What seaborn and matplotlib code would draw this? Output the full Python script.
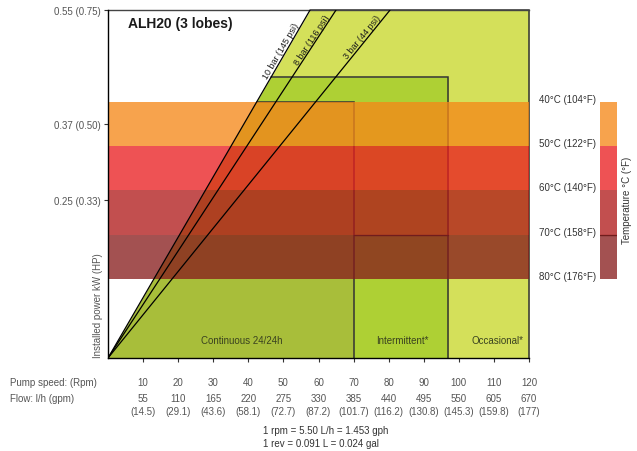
import math
import numpy as np
import pandas as pd
import matplotlib
matplotlib.use("Agg")
import matplotlib.pyplot as plt
import seaborn as sns

# ---------------- data ----------------
rpm = [10, 20, 30, 40, 50, 60, 70, 80, 90, 100, 110, 120]
flow_lh = [55, 110, 165, 220, 275, 330, 385, 440, 495, 550, 605, 670]
flow_gpm = ["14.5", "29.1", "43.6", "58.1", "72.7", "87.2", "101.7",
            "116.2", "130.8", "145.3", "159.8", "177"]

ytick_values = [0.25, 0.37, 0.55]
ytick_labels = ["0.25 (0.33)", "0.37 (0.50)", "0.55 (0.75)"]

duty_labels = ["Continuous 24/24h", "Intermittent*", "Occasional*"]
duty_rpm_max = [70, 97, 120]
duty_kw_max = [0.405, 0.444, 0.55]
duty_label_rpm = [38, 84, 111]
duty_colors = ["#a8be3a", "#aed034", "#d4e05a"]

pressure_labels = ["10 bar (145 psi)", "8 bar (116 psi)", "3 bar (44 psi)"]
pressure_rpm_at_max_kw = [57.6, 65.0, 80.4]
pressure_label_kw = [0.482, 0.500, 0.503]

temp_labels = ["40°C (104°F)", "50°C (122°F)", "60°C (140°F)",
               "70°C (158°F)", "80°C (176°F)"]
temp_bounds_kw = [0.405, 0.335, 0.265, 0.195, 0.125]
temp_colors_on_white = ["#f7a34d", "#ee5253", "#c24f4f", "#a35050"]
band_alpha = 0.77

KW_MAX = 0.55
RPM_MAX = 120

# ---------------- style ----------------
sns.set_theme(style="white")
plt.rcParams["font.family"] = ["Liberation Sans", "DejaVu Sans"]
GREY = "#555555"


def band_color(hexcol, a):
    r, g, b = matplotlib.colors.to_rgb(hexcol)
    return tuple(min(1, max(0, (c - (1 - a)) / a)) for c in (r, g, b))


band_cols = [band_color(c, band_alpha) for c in temp_colors_on_white]

W, H = 637, 452
fig = plt.figure(figsize=(W / 100, H / 100), dpi=100)
ax = fig.add_axes([108 / W, (H - 359) / H, 421 / W, 348 / H])
ax.set_xlim(0, RPM_MAX)
ax.set_ylim(0, KW_MAX)

slope10 = KW_MAX / pressure_rpm_at_max_kw[0]

# duty regions (bounded on the left by the 10 bar line)
for lab, xm, ym, col in reversed(list(zip(duty_labels, duty_rpm_max, duty_kw_max, duty_colors))):
    x_edge = ym / slope10
    ax.fill_between([0, x_edge, xm], [0, 0, 0], [0, ym, ym], color=col, lw=0, zorder=1)
    ax.plot([x_edge, xm, xm], [ym, ym, 0], color="#333333", lw=1.1, zorder=2,
            solid_joinstyle="miter", clip_on=False)

ax.plot([duty_rpm_max[0], duty_rpm_max[1]], [temp_bounds_kw[3]] * 2, color="#222222",
        lw=1.0, zorder=2)

# temperature bands
for i, col in enumerate(band_cols):
    ax.axhspan(temp_bounds_kw[i + 1], temp_bounds_kw[i], color=col, alpha=band_alpha,
               lw=0, zorder=3)

# pressure lines
rows = []
for lab, xt in zip(pressure_labels, pressure_rpm_at_max_kw):
    rows.append({"line": lab, "rpm": 0.0, "kw": 0.0})
    rows.append({"line": lab, "rpm": xt, "kw": KW_MAX})
df_p = pd.DataFrame(rows)
sns.lineplot(data=df_p, x="rpm", y="kw", units="line", estimator=None, sort=False,
             color="black", lw=0.9, ax=ax, zorder=4, legend=False)

for lab, xt, ky in zip(pressure_labels, pressure_rpm_at_max_kw, pressure_label_kw):
    p0 = ax.transData.transform((0, 0))
    p1 = ax.transData.transform((xt, KW_MAX))
    ang = math.degrees(math.atan2(p1[1] - p0[1], p1[0] - p0[0]))
    ax.text(xt * ky / KW_MAX, ky, lab, rotation=ang, rotation_mode="anchor",
            ha="center", va="bottom", fontsize=6.5, color="#1a1a1a", zorder=5)

# duty labels
for lab, xl in zip(duty_labels, duty_label_rpm):
    ax.text(xl, 0.028, lab, ha="center", va="center", fontsize=7, color="#3a4220", zorder=5)

# title
ax.text(20 / 421, (359 - 24) / 348, "ALH20 (3 lobes)", transform=ax.transAxes,
        ha="left", va="center", fontsize=10, fontweight="bold", color="#1a1a1a", zorder=6)

# axes styling
ax.set_xlabel("")
ax.set_ylabel("")
ax.set_xticks(rpm)
ax.set_xticklabels([])
ax.set_yticks(ytick_values)
ax.set_yticklabels(ytick_labels)
ax.tick_params(axis="both", length=3, width=0.8, color="#333333", direction="out",
               labelsize=7, labelcolor=GREY, pad=2)
ax.tick_params(axis="x", bottom=True)
ax.tick_params(axis="y", left=True)
for s in ["left", "bottom"]:
    ax.spines[s].set_color("black")
    ax.spines[s].set_linewidth(1.0)
    ax.spines[s].set_zorder(6)
ax.spines["top"].set_color("#444444")
ax.spines["top"].set_linewidth(1.0)
ax.spines["right"].set_visible(False)
ax.grid(False)

import matplotlib.transforms as mtransforms
btrans = mtransforms.blended_transform_factory(ax.transData, ax.transAxes)
for r, fl, fg in zip(rpm, flow_lh, flow_gpm):
    ax.text(r, (359 - 383.5) / 348, str(r), transform=btrans, ha="center", va="center",
            fontsize=7, color=GREY)
    ax.text(r, (359 - 399.5) / 348, str(fl), transform=btrans, ha="center", va="center",
            fontsize=7, color=GREY)
    ax.text(r, (359 - 412) / 348, f"({fg})", transform=btrans, ha="center", va="center",
            fontsize=7, color=GREY)

ax.text((98 - 108) / 421, 0.004, "Installed power kW (HP)", transform=ax.transAxes,
        rotation=90, ha="center", va="bottom", fontsize=7, color=GREY)

fig.text(10 / W, 1 - 383.5 / H, "Pump speed: (Rpm)", ha="left", va="center",
         fontsize=7, color=GREY)
fig.text(10 / W, 1 - 399.5 / H, "Flow: l/h (gpm)", ha="left", va="center",
         fontsize=7, color=GREY)
fig.text(263 / W, 1 - 431 / H, "1 rpm = 5.50 L/h = 1.453 gph", ha="left", va="center",
         fontsize=7, color="#333333")
fig.text(263 / W, 1 - 444 / H, "1 rev = 0.091 L = 0.024 gal", ha="left", va="center",
         fontsize=7, color="#333333")

# temperature legend bar
ax2 = fig.add_axes([600 / W, (H - 359) / H, 17 / W, 348 / H])
ax2.set_xlim(0, 1)
ax2.set_ylim(0, KW_MAX)
ax2.axis("off")
for i, col in enumerate(band_cols):
    ax2.axhspan(temp_bounds_kw[i + 1], temp_bounds_kw[i], color=col, alpha=band_alpha,
                lw=0, zorder=3)
ax2.plot([0, 1], [temp_bounds_kw[3]] * 2, color="#222222", lw=1.0, zorder=2)
for lab, kw in zip(temp_labels, temp_bounds_kw):
    ax2.text(-4 / 17, kw, lab, transform=mtransforms.blended_transform_factory(ax2.transAxes, ax2.transData),
             ha="right", va="baseline", fontsize=7, color="#333333")
fig.text(627 / W, 1 - 200 / H, "Temperature °C (°F)", rotation=90, ha="center",
         va="center", fontsize=7, color="#333333")

fig.savefig("out.png", dpi=100)
